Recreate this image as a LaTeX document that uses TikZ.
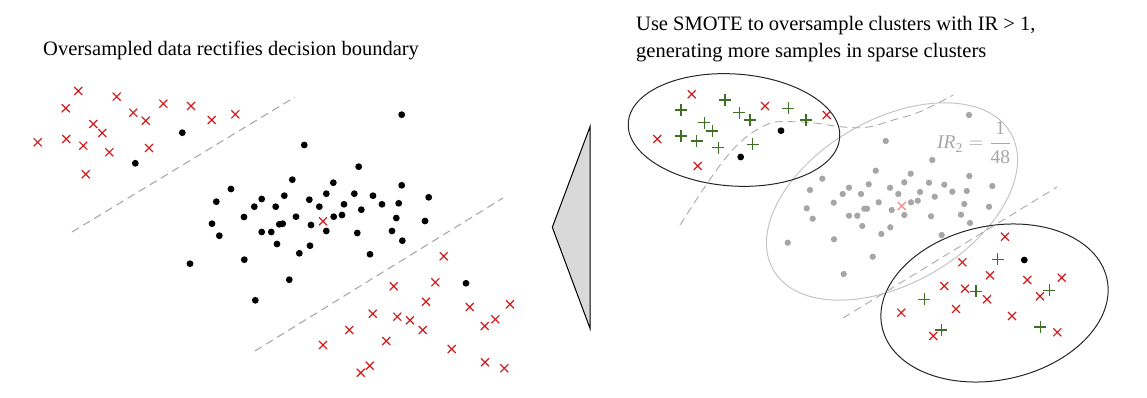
\documentclass[tikz,border=0pt]{standalone}
\usepackage{fontspec}
\setmainfont{Liberation Serif}
\usepackage{amsmath}
\usetikzlibrary{shapes.misc}
\definecolor{xred}{HTML}{D01C1C}
\definecolor{xlred}{HTML}{EE8A8A}
\definecolor{pgreen}{HTML}{3F6F26}
\definecolor{dotgray}{HTML}{A6A6A6}
\definecolor{dashgray}{HTML}{A9A9A9}
\definecolor{ellgray}{HTML}{C4C4C4}
\definecolor{trifill}{HTML}{D9D9D9}
\tikzset{
  rx/.style={cross out, draw=xred, line width=1.2pt, minimum size=8pt, inner sep=0pt, outer sep=0pt},
  lrx/.style={rx, draw=xlred},
  bdot/.style={circle, fill=black, minimum size=6.8pt, inner sep=0pt},
  gdot/.style={circle, fill=dotgray, minimum size=6.3pt, inner sep=0pt},
  gplus/.style={cross out, draw=pgreen, line width=1.2pt, minimum size=7.2pt, inner sep=0pt, rotate=45},
  bound/.style={draw=dashgray, line width=1.1pt, dash pattern=on 8pt off 5pt},
  clus/.style={draw=black!85, line width=1pt},
  gclus/.style={draw=ellgray, line width=1pt},
  title/.style={anchor=base west, inner sep=0pt, font=\fontsize{20.5}{27}\selectfont},
}
\begin{document}
\begin{tikzpicture}[x=1pt,y=-1pt]
\useasboundingbox (0,0) rectangle (1147,398);
% titles
\node[title] (tl) at (43,56) {Oversampled data rectifies decision boundary};
\node[title] (tr1) at (636,31) {Use SMOTE to oversample clusters with IR > 1,};
\node[title] (tr2) at (636,58) {generating more samples in sparse clusters};
% ---------------- left panel
\coordinate (u1) at (72,232); \coordinate (u2) at (295,97);
\coordinate (d1) at (255,351); \coordinate (d2) at (503,198);
\draw[bound] (u1) -- (u2);
\draw[bound] (d1) -- (d2);
\foreach \p [count=\i] in {(78.3,91),(116.7,96.7),(65.7,108.3),(163.3,103.7),(191,106),(133.3,112.7),(145.7,120.7),(211.7,120),(235.3,114.3),(93.3,124),(102.3,133),(37.7,142.3),(66.3,139),(83.3,145.7),(109.3,152.3),(149,148),(85.7,174.3)}
  \node[rx] (lu\i) at \p {};
\foreach \p [count=\i] in {(443.7,256.3),(435.3,282.3),(393.7,286.3),(426,301.7),(469.7,307),(510,304.3),(372.7,313.7),(397.3,316.7),(410,320.3),(495.3,319.3),(484.7,326),(349.3,330),(422.7,330),(386.3,341),(323,345),(451.7,349),(485,362.3),(504.3,368.3),(369.7,365.7),(360.7,372.7)}
  \node[rx] (ld\i) at \p {};
\node[rx] (lc) at (323,221.3) {};
\foreach \p [count=\i] in {(182.3,132.7),(135.3,163.3),(401.7,114.7),(304.3,145),(358.7,166.7),(292.3,179.7),(231,189),(333.3,182.7),(401.7,185.3),(216.3,201.7),(261.7,199),(284.3,195.7),(309.3,199.7),(326.3,193.7),(354.3,193.7),(373,195.7),(428.7,197.3),(254.3,206.7),(275.7,206.7),(319.3,206.7),(344,204.3),(382,204.3),(398.7,203.3),(244,217),(296,216.7),(361.3,209.7),(212,223.7),(279.3,224.3),(282.7,223.7),(311,225),(333.7,216.7),(342,215),(396.3,218),(425,221),(219.3,235.7),(261.7,232),(271.3,232),(326.3,231),(357.3,233),(392,231),(402.3,240.7),(277,244),(310,245.7),(299.3,253.3),(370,254.3),(190,263.7),(244.3,259.7),(289.3,279.7),(255.3,300.3),(466,283.3)}
  \node[bdot] (lb\i) at \p {};
% ---------------- arrow triangle
\coordinate (t1) at (590,126.7); \coordinate (t2) at (552.3,227.3); \coordinate (t3) at (590,328.3);
\draw[fill=trifill, draw=black, line width=1pt, line join=miter] (t1) -- (t2) -- (t3) -- cycle;
% ---------------- right panel
\coordinate (ec1) at (734,130);
\coordinate (ec2) at (892,201.5);
\coordinate (ec3) at (994.5,303);
\draw[gclus, rotate around={30:(ec2)}] (ec2) ellipse [x radius=137pt, y radius=82pt];
\draw[clus, rotate around={-4:(ec1)}] (ec1) ellipse [x radius=106pt, y radius=56pt];
\draw[clus, rotate around={12:(ec3)}] (ec3) ellipse [x radius=115pt, y radius=77pt];
\coordinate (r1) at (843,318); \coordinate (r2) at (1057,187);
\draw[bound, line width=0.9pt] (r1) -- (r2);
\draw[bound, line width=0.9pt] plot[smooth, tension=0.6] coordinates {(680,225) (705,186.7) (726.7,156.7) (746.7,136.7) (770,123.3) (791.7,121.7) (815,123) (840,126.7) (866.7,127.3) (893.3,120) (920,111.7) (953.3,95)};
% top cluster
\foreach \p [count=\i] in {(691.7,94.3),(765,106),(826.7,115),(657.3,139),(697.7,166)}
  \node[rx] (tx\i) at \p {};
\foreach \p [count=\i] in {(725,100),(681,110),(788.3,108.3),(739.3,112.7),(750,120),(806,120),(704.3,122.7),(712.3,131),(681,136),(696.7,141),(752.7,144.3),(718.3,147.7)}
  \node[gplus] (tp\i) at \p {};
\node[bdot] (tb1) at (781,130.7) {};
\node[bdot] (tb2) at (740.7,157) {};
% middle cluster
\foreach \p [count=\i] in {(969,115),(885.7,141),(932.3,160),(875.7,170.7),(910.7,173.7),(969.3,176),(822.3,178.7),(904.3,182.3),(929,182.7),(944.3,184.7),(992.3,186),(810,190),(849,187.7),(868.7,184.3),(890,187.7),(842.7,194),(861,194),(898.3,194),(920,192),(952.3,191.7),(966.7,191),(934.7,196.7),(833.7,202.7),(878.7,202.3),(911,202.3),(917.7,200.7),(964.3,204),(806.7,208.3),(864.3,208.7),(867,208.7),(891.7,210),(989,206.7),(812.7,218.7),(849,215.7),(857.3,215.7),(904.3,215),(931,216.3),(961,214.7),(862.3,226),(890.3,227.3),(970,223),(881.3,234),(941.7,235),(787.7,242.7),(834,239.3),(872.7,256.7),(843.7,274)}
  \node[gdot] (mg\i) at \p {};
\node[lrx] (mc) at (901.7,206) {};
\node[anchor=base west, inner sep=0pt, text=dotgray, font=\fontsize{19.5}{22}\selectfont] (ir) at (937,149) {$\textit{IR}_{\text{2}}=\dfrac{\text{1}}{\text{48}}$};
% bottom cluster
\foreach \p [count=\i] in {(1005,236.7),(962.3,262.3),(990,275.3),(1027.3,280),(1061.7,277.7),(944.3,286),(965,288.7),(987,299.3),(1040,296.3),(901.3,312.7),(956,309),(1012,316),(933.3,336),(1057.3,332.3)}
  \node[rx] (bx\i) at \p {};
\foreach \p [count=\i] in {(997.7,259.3),(976,291.3),(1049.3,290.3),(924.3,299.3),(941.3,330),(1040.3,327)}
  \node[gplus] (bp\i) at \p {};
\node[bdot] (bb1) at (1024.3,260) {};
\end{tikzpicture}
\end{document}
